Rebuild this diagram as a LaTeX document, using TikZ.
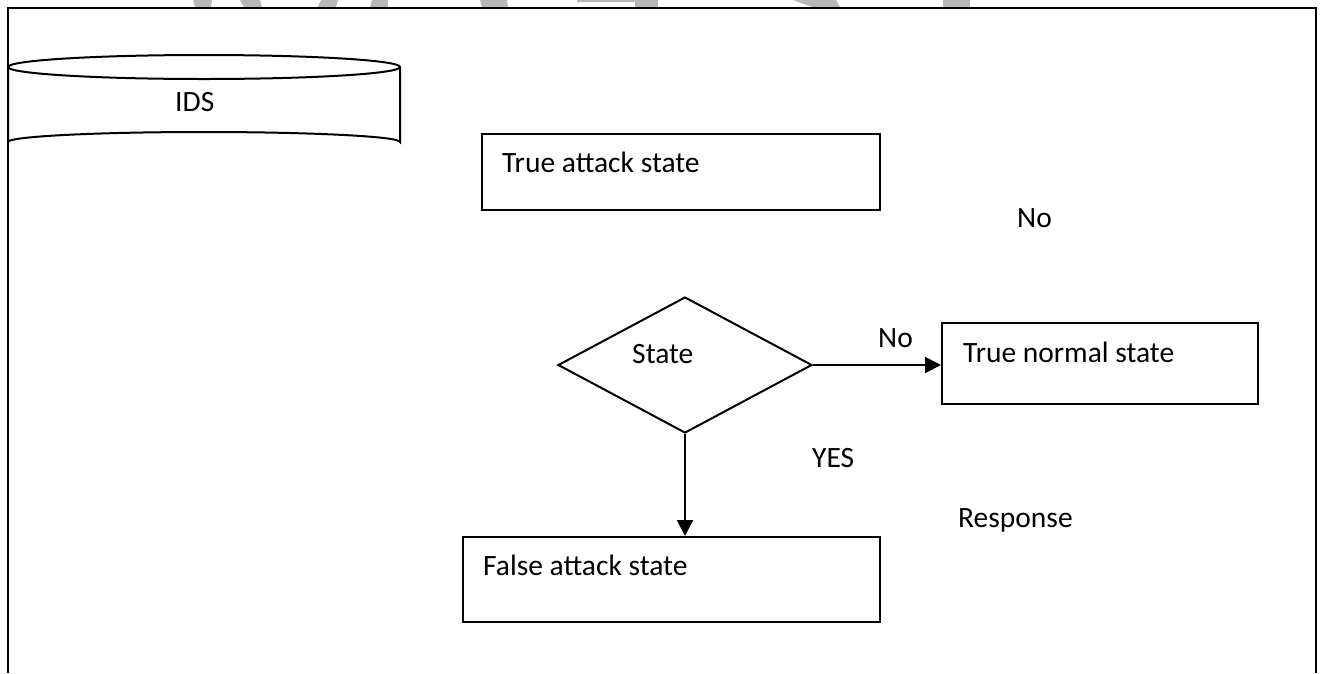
\documentclass[tikz,border=0pt]{standalone}
\usepackage{fontspec}
\setmainfont{Carlito}
\usetikzlibrary{arrows.meta,shapes.geometric}
\tikzset{
  lbl/.style={inner sep=0pt, anchor=base west, font=\fontsize{29.5}{34}\selectfont},
  boxnode/.style={draw, line width=2pt, rectangle, inner sep=0pt},
  arr/.style={line width=2pt, -{Triangle[length=16pt,width=16pt]}},
  wm/.style={fill=black!28, draw=none},
}
\begin{document}
\begin{tikzpicture}[x=1pt,y=-1pt]
\useasboundingbox (0,0) rectangle (1324,673);
% watermark fragments
\fill[wm] (193,0) -- (212,0) -- (211,7) -- (195,7) -- cycle;
\fill[wm] (240,0) -- (260,0) -- (262,7) -- (244,7) -- cycle;
\fill[wm] (321,0) -- (338,0) -- (336,7) -- (318,7) -- cycle;
\fill[wm] (372,0) -- (388,0) -- (388,7) -- (370,7) -- cycle;
\fill[wm] (480,0) -- (507,0) -- (508,7) -- (482,7) -- cycle;
\fill[wm] (577,0) -- (650,0) -- (650,7) -- (635,7) -- (635,2) -- (577,2) -- cycle;
\fill[wm] (650,0) -- (658,0) -- (658,7) -- (650,7) -- cycle;
\fill[wm] (793,0) -- (836,0) -- (840,7) -- (812,7) -- cycle;
\fill[wm] (943,0) -- (970,0) -- (970,7) -- (943,7) -- cycle;
% frame
\draw[line width=2pt] (8,673) -- (8,8) -- (1316,8) -- (1316,673);
% cylinder
\draw[line width=2pt] (204,67) ellipse [x radius=196, y radius=12];
\draw[line width=2pt] (8,67) -- (8,142) arc [start angle=180, end angle=360, x radius=196, y radius=10] -- (400,67);
\node[lbl] (ids) at (175,111) {IDS};
% boxes
\node[boxnode, minimum width=398pt, minimum height=76pt] (ta) at (681,172) {};
\node[lbl] (talbl) at (502,172) {True attack state};
\node[boxnode, minimum width=316pt, minimum height=81pt] (tn) at (1100,363.5) {};
\node[lbl] (tnlbl) at (963,362) {True normal state};
\node[boxnode, minimum width=417pt, minimum height=85pt] (fa) at (671.5,579.5) {};
\node[lbl] (falbl) at (483,575) {False attack state};
% diamond
\node[draw, line width=2pt, diamond, aspect=1.87, inner sep=0pt, minimum width=254pt, minimum height=136pt] (st) at (685,365) {};
\node[lbl] (stlbl) at (632,363) {State};
% connectors
\draw[arr] (st.east) -- (st.east -| tn.west);
\draw[arr] (st.south) -- (st.south |- fa.north);
% labels
\node[lbl] (no1) at (878,347) {No};
\node[lbl] (no2) at (1017,227) {No};
\node[lbl] (yes) at (812,467) {YES};
\node[lbl] (resp) at (958,527) {Response};
\end{tikzpicture}
\end{document}
